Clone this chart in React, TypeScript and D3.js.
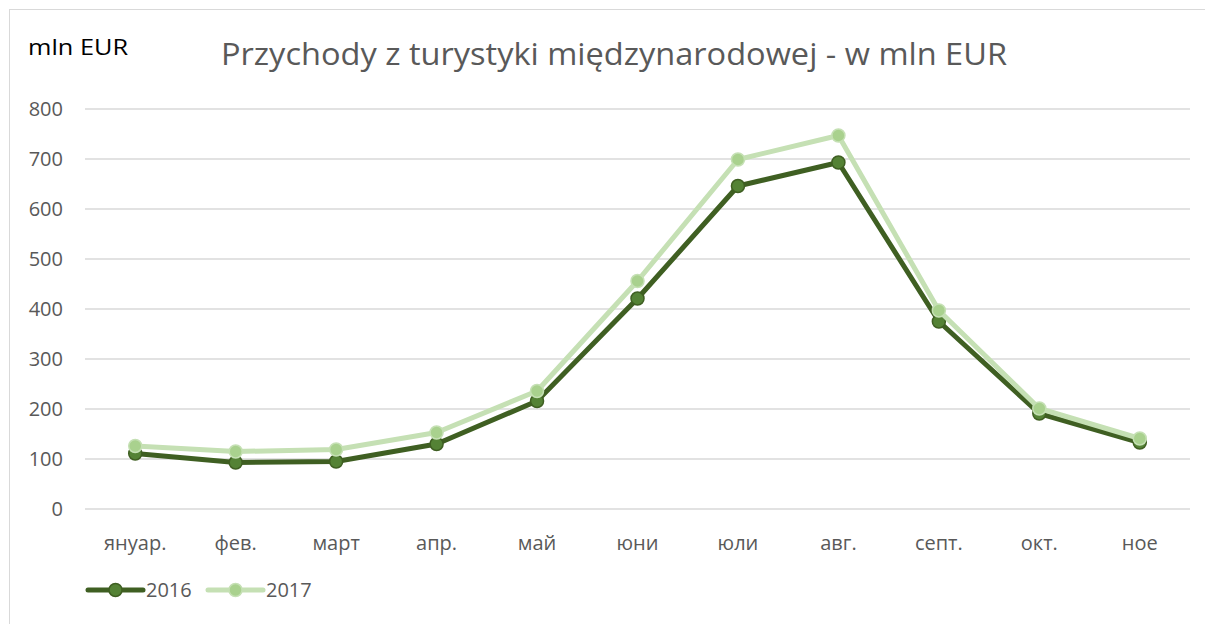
import React from "react";
import * as d3 from "d3";

const months = ["януар.", "фев.", "март", "апр.", "май", "юни", "юли", "авг.", "септ.", "окт.", "ное"];
const values2016 = [111, 93, 95, 130, 216, 421, 646, 693, 375, 191, 133];
const values2017 = [126, 115, 119, 153, 236, 456, 699, 747, 397, 201, 141];
const yTicks = [0, 100, 200, 300, 400, 500, 600, 700, 800];
const seriesNames = ["2016", "2017"];

const W = 1205;
const H = 624;
const FONT = "'Open Sans', 'Liberation Sans', sans-serif";

export default function App() {
  const x = d3.scaleBand<string>().domain(months).range([85, 1190]);
  const y = d3.scaleLinear().domain([0, 800]).range([509, 109]);
  const cx = (m: string) => (x(m) as number) + x.bandwidth() / 2;
  const line = d3
    .line<number>()
    .x((_, i) => cx(months[i]))
    .y((d) => y(d));

  const series = [
    { name: seriesNames[0], data: values2016, stroke: "#3f5f22", fill: "#548235", mstroke: "#3f5f22" },
    { name: seriesNames[1], data: values2017, stroke: "#c5e0b4", fill: "#a9d18e", mstroke: "#c5e0b4" },
  ];

  return (
    <svg width={W} height={H} style={{ position: "absolute", left: 0, top: 0, fontFamily: FONT }}>
      <rect x={0} y={0} width={W} height={H} fill="#fff" />
      <rect x={9.5} y={9.5} width={1205} height={630} fill="none" stroke="#d9d9d9" />
      <text x={28} y={55} fontSize={22} fill="#000" textLength={100} lengthAdjust="spacingAndGlyphs">mln EUR</text>
      <text x={221} y={65} fontSize={31.5} fill="#595959" textLength={786} lengthAdjust="spacingAndGlyphs">
        Przychody z turystyki międzynarodowej - w mln EUR
      </text>
      {yTicks.map((t) => (
        <g key={t}>
          <line x1={85} x2={1190} y1={y(t)} y2={y(t)} stroke="#d9d9d9" strokeWidth={1.5} />
          <text x={63} y={y(t) + 7} fontSize={20} fill="#595959" textAnchor="end">{t}</text>
        </g>
      ))}
      {months.map((m) => (
        <text key={m} x={cx(m)} y={550} fontSize={20} fill="#595959" textAnchor="middle">{m}</text>
      ))}
      {series.map((s) => (
        <g key={s.name}>
          <path d={line(s.data) as string} fill="none" stroke={s.stroke} strokeWidth={5} strokeLinejoin="round" />
          {s.data.map((v, i) => (
            <circle key={i} cx={cx(months[i])} cy={y(v)} r={6.5} fill={s.fill} stroke={s.mstroke} strokeWidth={1.5} />
          ))}
        </g>
      ))}
      {series.map((s, i) => {
        const x0 = 88 + i * 120;
        return (
          <g key={s.name}>
            <line x1={x0} x2={x0 + 55} y1={590} y2={590} stroke={s.stroke} strokeWidth={5} strokeLinecap="round" />
            <circle cx={x0 + 27.5} cy={590} r={6.5} fill={s.fill} stroke={s.mstroke} strokeWidth={1.5} />
            <text x={x0 + 58} y={597} fontSize={20} fill="#595959">{s.name}</text>
          </g>
        );
      })}
    </svg>
  );
}
